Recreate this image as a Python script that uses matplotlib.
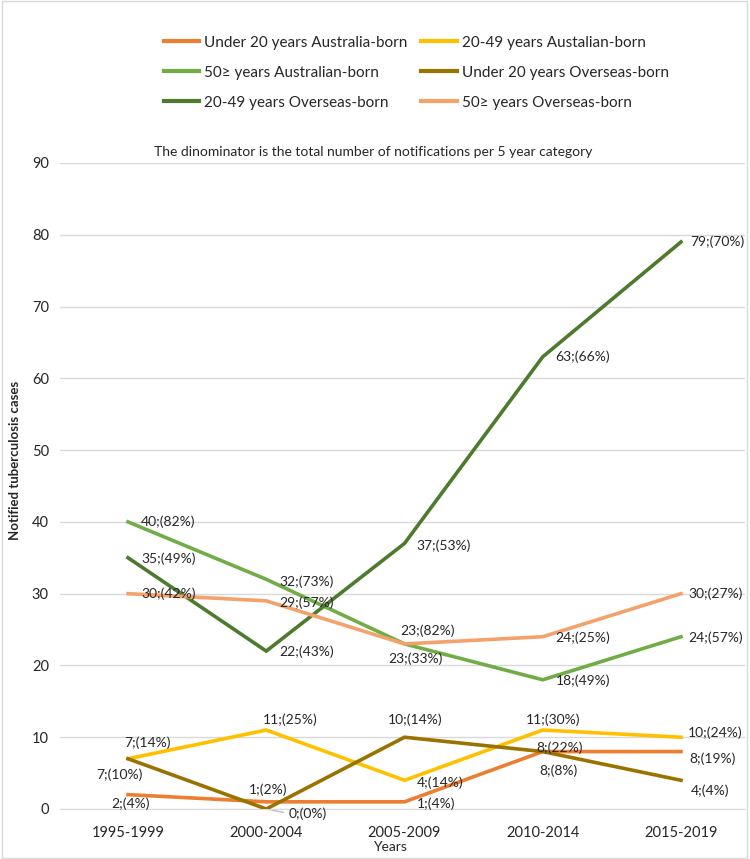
import matplotlib
matplotlib.use("Agg")
import matplotlib.pyplot as plt
from matplotlib.lines import Line2D

plt.rcParams['font.family'] = ['Lato', 'DejaVu Sans']

categories = ["1995-1999", "2000-2004", "2005-2009", "2010-2014", "2015-2019"]

series_names = [
    "Under 20 years Australia-born",
    "20-49 years Austalian-born",
    "50\u2265 years Australian-born",
    "Under 20 years Overseas-born",
    "20-49 years Overseas-born",
    "50\u2265 years Overseas-born",
]

u20_aus = [2, 1, 1, 8, 8]
a20_49_aus = [7, 11, 4, 11, 10]
a50_aus = [40, 32, 23, 18, 24]
u20_os = [7, 0, 10, 8, 4]
a20_49_os = [35, 22, 37, 63, 79]
a50_os = [30, 29, 23, 24, 30]

u20_aus_pct = [4, 2, 4, 22, 19]
a20_49_aus_pct = [14, 25, 14, 30, 24]
a50_aus_pct = [82, 73, 82, 49, 57]
u20_os_pct = [10, 0, 14, 8, 4]
a20_49_os_pct = [49, 43, 53, 66, 70]
a50_os_pct = [42, 57, 33, 25, 27]

values = [u20_aus, a20_49_aus, a50_aus, u20_os, a20_49_os, a50_os]
pcts = [u20_aus_pct, a20_49_aus_pct, a50_aus_pct, u20_os_pct, a20_49_os_pct, a50_os_pct]

colors = ["#ED7D31", "#FFC000", "#70AD47", "#9A7200", "#4E7A2E", "#F4A26C"]

# label offsets in pixels (dx to text left edge, dy upward)
label_offsets = [
    [(-17, -9), (-17, 12), (12, -2), (-6, 4), (8, -7)],
    [(-4, 16), (-3, 10), (12, -2), (-17, 10), (7, 4)],
    [(13, 0), (13, -2), (-4, 13), (13, -1), (7, -1)],
    [(-32, -16), (22, -5), (-17, 17), (-3, -19), (10, -10)],
    [(13, -1), (13, -1), (12, -2), (13, 0), (9, 0)],
    [(13, 0), (13, -2), (-16, -15), (13, -1), (7, 0)],
]

W, H = 750, 859
fig = plt.figure(figsize=(W / 100, H / 100), dpi=100)
ax = fig.add_axes([60 / W, 1 - 809 / H, 685 / W, (809 - 163) / H])

x = list(range(len(categories)))
px2pt = 72 / 100

for vals, pc, col, name, offs in zip(values, pcts, colors, series_names, label_offsets):
    ax.plot(x, vals, color=col, lw=2.6, label=name, solid_joinstyle='miter', zorder=3)
    for xi, v, p, (dx, dy) in zip(x, vals, pc, offs):
        ax.annotate(f"{v};({p}%)", (xi, v), xytext=(dx * px2pt, dy * px2pt),
                    textcoords='offset points', ha='left', va='center',
                    fontsize=10, color='#262626', zorder=4)

# leader line for 0;(0%)
ax.annotate("", (1, 0), xytext=(20 * px2pt, -4 * px2pt), textcoords='offset points',
            arrowprops=dict(arrowstyle='-', color='#BFBFBF', lw=1), zorder=2)

ax.set_xlim(-0.492, 4.463)
ax.set_ylim(0, 90)
ax.set_yticks(range(0, 91, 10))
ax.set_xticks(x)
ax.set_xticklabels(categories)
ax.grid(axis='y', color='#D9D9D9', lw=1, zorder=0)
ax.set_axisbelow(True)
for s in ax.spines.values():
    s.set_visible(False)
ax.spines['bottom'].set_visible(True)
ax.spines['bottom'].set_color('#D9D9D9')
ax.tick_params(axis='both', length=0, labelsize=10.5, labelcolor='#262626')
ax.tick_params(axis='x', pad=12)
ax.tick_params(axis='y', pad=8)

fig.text(390 / W, 1 - 847 / H, "Years", ha='center', va='center', fontsize=10, color='#262626')
fig.text(15 / W, 1 - 460 / H, "Notified tuberculosis cases", rotation=90, ha='center', va='center',
         fontsize=9.5, fontweight='bold', color='#262626')
fig.text(373 / W, 1 - 152 / H, "The dinominator is the total number of notifications per 5 year category",
         ha='center', va='center', fontsize=10, color='#262626')

order = [0, 2, 4, 1, 3, 5]
handles = [Line2D([0], [0], color=colors[i], lw=3) for i in order]
labels = [series_names[i] for i in order]
fig.legend(handles, labels, loc='upper left', bbox_to_anchor=(150 / W, 1 - 22 / H),
           ncol=2, frameon=False, fontsize=11, handlelength=2.3, handletextpad=0.35,
           columnspacing=0.9, labelspacing=1.05, labelcolor='#262626')

# outer border
fig.patches.append(plt.Rectangle((2 / W, 1 / H), 745 / W, 1 - 2 / H, transform=fig.transFigure,
                                 fill=False, edgecolor='#D9D9D9', lw=1))

fig.savefig("out.png", dpi=100)
